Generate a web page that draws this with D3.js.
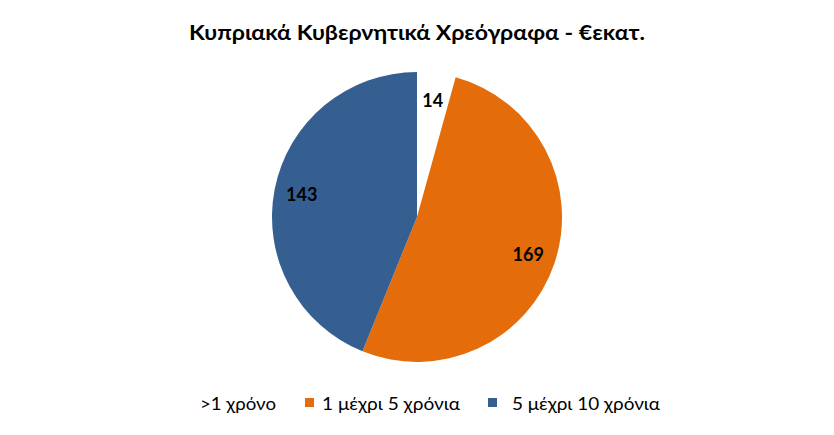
<!DOCTYPE html>
<html><head><meta charset="utf-8">
<script src="https://cdn.jsdelivr.net/npm/d3@7"></script>
<style>body{margin:0;background:#fff;} svg{display:block;}</style>
</head><body>
<svg id="c" width="834" height="435"></svg>
<script>
const categories = [">1 χρόνο", "1 μέχρι 5 χρόνια", "5 μέχρι 10 χρόνια"];
const values = [14, 169, 143];
const colors = ["#FFFFFF", "#E46C0A", "#365F91"];
const title = "Κυπριακά Κυβερνητικά Χρεόγραφα - €εκατ.";

const svg = d3.select("#c");
const font = "Lato, 'Open Sans', sans-serif";
const cx = 417, cy = 217, R = 145;

svg.append("text").attr("x", 417).attr("y", 40).attr("text-anchor", "middle")
  .attr("font-family", font).attr("font-weight", "bold").attr("font-size", 20)
  .attr("textLength", 456).attr("lengthAdjust", "spacingAndGlyphs")
  .text(title);

const data = categories.map((c, i) => ({c, v: values[i], col: colors[i]}));
const pie = d3.pie().value(d => d.v).sort(null);
const arc = d3.arc().innerRadius(0).outerRadius(R);
const labelArc = d3.arc().innerRadius(R * 0.81).outerRadius(R * 0.81);
const g = svg.append("g").attr("transform", `translate(${cx},${cy})`);
const arcs = pie(data);
g.selectAll("path").data(arcs).join("path").attr("d", arc).attr("fill", d => d.data.col);
g.selectAll("text").data(arcs).join("text")
  .attr("transform", d => `translate(${labelArc.centroid(d)})`)
  .attr("text-anchor", "middle").attr("dy", "0.35em")
  .attr("font-family", font).attr("font-weight", "bold").attr("font-size", 18)
  .text(d => d.data.v);

const legBox = [null, 305, 488];
const legText = [200, 322, 512];
const legLen = [76, 138, 148];
const leg = svg.append("g");
data.forEach((d, i) => {
  if (legBox[i] !== null) leg.append("rect").attr("x", legBox[i]).attr("y", 398).attr("width", 9).attr("height", 9).attr("fill", d.col);
  leg.append("text").attr("x", legText[i]).attr("y", 410).attr("font-family", font).attr("font-size", 18)
    .attr("textLength", legLen[i]).attr("lengthAdjust", "spacingAndGlyphs")
    .attr("fill", "#000").text(d.c);
});
</script>
</body></html>
